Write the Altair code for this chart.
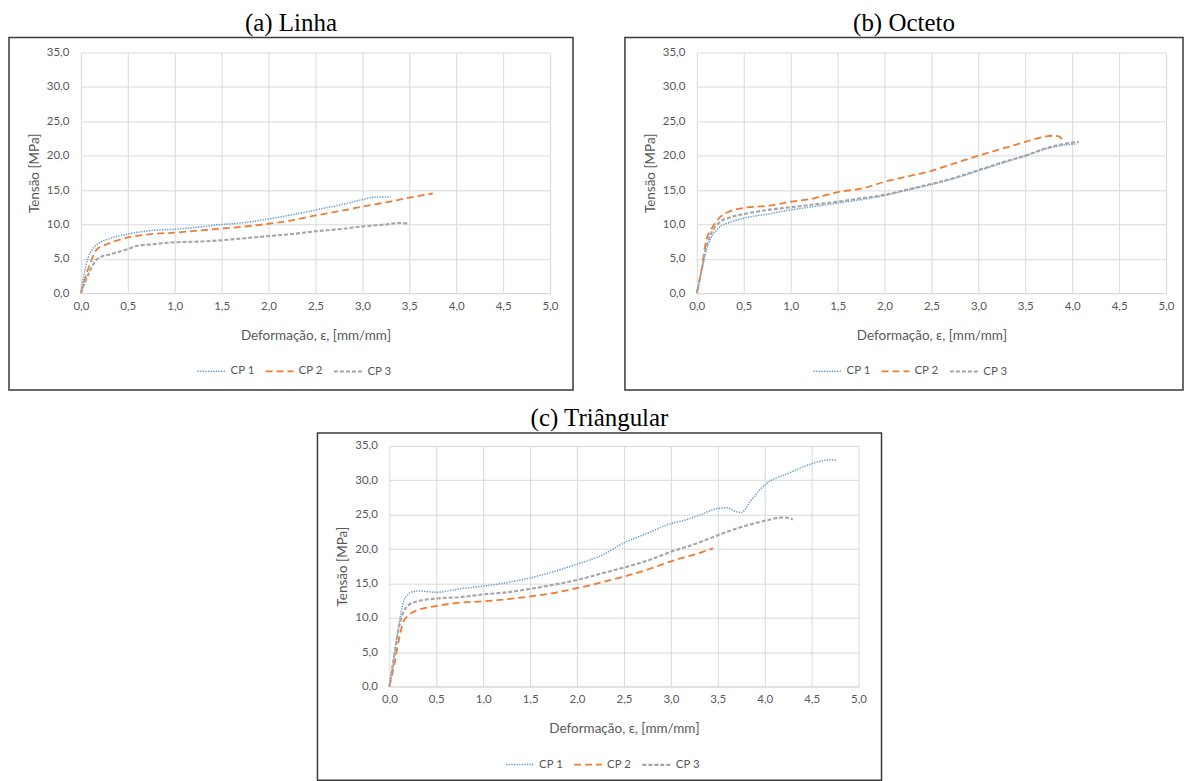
import altair as alt
import pandas as pd

SERIES = ["CP 1", "CP 2", "CP 3"]
COLORS = ["#5B9BD5", "#ED7D31", "#A5A5A5"]
DASHES = [[1.3, 1.3], [7, 4], [4, 2]]
WIDTHS = [1.5, 2.1, 1.3]

X_TICKS = [0, 0.5, 1.0, 1.5, 2.0, 2.5, 3.0, 3.5, 4.0, 4.5, 5.0]
Y_TICKS = [0, 5, 10, 15, 20, 25, 30, 35]

TITLES = ["(a) Linha", "(b) Octeto", "(c) Triângular"]

# (a) Linha
A_X1 = [0, 0.03, 0.08, 0.15, 0.22, 0.3, 0.5, 0.75, 1.0, 1.25, 1.5, 1.7, 2.0, 2.25, 2.5, 2.75, 3.0, 3.15, 3.3]
A_Y1 = [0, 2.5, 5.2, 6.8, 7.5, 7.9, 8.6, 9.1, 9.3, 9.6, 10.0, 10.2, 10.8, 11.4, 12.1, 12.8, 13.6, 14.0, 14.0]
A_X2 = [0, 0.05, 0.1, 0.15, 0.2, 0.25, 0.35, 0.5, 0.75, 1.0, 1.25, 1.5, 1.75, 2.0, 2.25, 2.5, 2.75, 3.0, 3.25, 3.5, 3.75]
A_Y2 = [0, 2.4, 4.3, 6.0, 6.7, 7.0, 7.5, 8.1, 8.6, 8.8, 9.1, 9.4, 9.7, 10.1, 10.6, 11.3, 11.9, 12.6, 13.2, 13.9, 14.5]
A_X3 = [0, 0.05, 0.1, 0.15, 0.2, 0.3, 0.4, 0.5, 0.6, 0.75, 1.0, 1.25, 1.5, 1.75, 2.0, 2.25, 2.5, 2.75, 3.0, 3.25, 3.4, 3.5]
A_Y3 = [0, 1.8, 3.3, 4.6, 5.2, 5.6, 6.0, 6.4, 6.9, 7.1, 7.4, 7.5, 7.7, 8.0, 8.3, 8.6, 9.0, 9.3, 9.7, 10.0, 10.2, 10.1]

# (b) Octeto
B_X1 = [0, 0.05, 0.1, 0.15, 0.2, 0.25, 0.35, 0.5, 0.75, 1.0, 1.25, 1.5, 1.75, 2.0, 2.25, 2.5, 2.75, 3.0, 3.25, 3.5, 3.75, 3.95, 4.05]
B_Y1 = [0, 3.2, 6.2, 8.0, 9.0, 9.7, 10.3, 10.9, 11.5, 12.1, 12.6, 13.1, 13.6, 14.2, 15.0, 15.8, 16.7, 17.8, 18.9, 20.0, 21.1, 21.6, 21.7]
B_X2 = [0, 0.05, 0.1, 0.15, 0.2, 0.25, 0.35, 0.5, 0.75, 1.0, 1.25, 1.5, 1.75, 2.0, 2.25, 2.5, 2.75, 3.0, 3.25, 3.5, 3.65, 3.8, 3.86, 3.9]
B_Y2 = [0, 3.4, 7.7, 9.2, 10.3, 11.1, 11.9, 12.4, 12.7, 13.3, 13.8, 14.7, 15.2, 16.2, 17.0, 17.8, 18.9, 20.0, 21.0, 22.0, 22.6, 22.9, 22.8, 22.2]
B_X3 = [0, 0.05, 0.1, 0.15, 0.2, 0.25, 0.35, 0.5, 0.75, 1.0, 1.25, 1.5, 1.75, 2.0, 2.25, 2.5, 2.75, 3.0, 3.25, 3.5, 3.75, 4.0, 4.07]
B_Y3 = [0, 3.3, 6.7, 8.6, 9.7, 10.4, 11.0, 11.5, 12.1, 12.5, 12.9, 13.3, 13.8, 14.3, 15.1, 15.9, 16.8, 17.9, 19.0, 20.0, 21.2, 21.9, 22.0]

# (c) Triângular
C_X1 = [0, 0.05, 0.1, 0.15, 0.2, 0.25, 0.32, 0.4, 0.5, 0.75, 1.0, 1.25, 1.5, 1.75, 2.0, 2.25, 2.5, 2.75, 3.0, 3.15, 3.3, 3.5, 3.6, 3.68, 3.75, 3.85, 4.0, 4.25, 4.5, 4.6, 4.72, 4.77]
C_Y1 = [0, 4.5, 8.9, 12.3, 13.4, 13.8, 13.9, 13.8, 13.7, 14.2, 14.6, 15.1, 15.8, 16.7, 17.8, 19.0, 20.9, 22.3, 23.7, 24.2, 24.9, 25.9, 26.0, 25.5, 25.3, 27.0, 29.3, 31.0, 32.4, 32.8, 33.0, 32.8]
C_X2 = [0, 0.05, 0.1, 0.15, 0.2, 0.3, 0.5, 0.75, 1.0, 1.25, 1.5, 1.75, 2.0, 2.25, 2.5, 2.75, 3.0, 3.25, 3.45]
C_Y2 = [0, 3.0, 6.7, 9.4, 10.3, 11.1, 11.7, 12.2, 12.4, 12.7, 13.1, 13.6, 14.3, 15.1, 16.0, 17.0, 18.2, 19.2, 20.1]
C_X3 = [0, 0.05, 0.1, 0.15, 0.2, 0.3, 0.5, 0.75, 1.0, 1.25, 1.5, 1.75, 2.0, 2.25, 2.5, 2.75, 3.0, 3.25, 3.5, 3.75, 4.0, 4.2, 4.3]
C_Y3 = [0, 4.2, 8.4, 10.8, 11.8, 12.4, 12.8, 13.0, 13.4, 13.7, 14.2, 14.8, 15.5, 16.4, 17.3, 18.3, 19.6, 20.7, 22.0, 23.2, 24.1, 24.6, 24.3]

FONT = "Lato"
GRAY = "#595959"
LABEL_EXPR = "replace(format(datum.value, '.1f'), '.', ',')"


def build_df(xs_list, ys_list):
    rows = []
    for name, xs, ys in zip(SERIES, xs_list, ys_list):
        for i, (x, y) in enumerate(zip(xs, ys)):
            rows.append({"x": x, "y": y, "series": name, "i": i})
    return pd.DataFrame(rows)


def panel(title, xs_list, ys_list, box_right, box_top, box_bottom):
    df = build_df(xs_list, ys_list)
    leg = alt.Legend(
        title=None, orient="none", legendX=116, legendY=304, direction="horizontal",
        symbolType="stroke", symbolSize=784, labelFont=FONT, labelFontSize=11.5,
        labelColor=GRAY, columnPadding=6, labelOffset=4,
    )
    lines = alt.Chart(df).mark_line(interpolate="monotone").encode(
        x=alt.X("x:Q", scale=alt.Scale(domain=[0, 5], nice=False),
                axis=alt.Axis(values=X_TICKS, labelExpr=LABEL_EXPR, labelFlush=False,
                              title="Deformação, ε, [mm/mm]", domainColor="#d9d9d9",
                              titlePadding=17, labelPadding=7)),
        y=alt.Y("y:Q", scale=alt.Scale(domain=[0, 35], nice=False),
                axis=alt.Axis(values=Y_TICKS, labelExpr=LABEL_EXPR, labelFlush=False,
                              title="Tensão [MPa]", domain=False,
                              titlePadding=5, labelPadding=12)),
        color=alt.Color("series:N", scale=alt.Scale(domain=SERIES, range=COLORS), legend=leg),
        strokeDash=alt.StrokeDash("series:N", scale=alt.Scale(domain=SERIES, range=DASHES), legend=leg),
        strokeWidth=alt.StrokeWidth("series:N", scale=alt.Scale(domain=SERIES, range=WIDTHS), legend=leg),
        order="i:Q",
    )
    one = pd.DataFrame({"k": [0]})
    border = alt.Chart(one).mark_rect(
        fill="white", fillOpacity=0, stroke="#3a3a3a", strokeWidth=1.5
    ).encode(
        x=alt.value(-72), x2=alt.value(box_right), y=alt.value(box_top), y2=alt.value(box_bottom)
    )
    return alt.layer(border, lines).properties(
        width=470, height=241,
        title=alt.TitleParams(title, font="Liberation Serif", fontSize=25, fontWeight="normal",
                              color="black", anchor="middle", frame="bounds", offset=1),
    )


pa = panel(TITLES[0], [A_X1, A_X2, A_X3], [A_Y1, A_Y2, A_Y3], 493, -15, 338)
pb = panel(TITLES[1], [B_X1, B_X2, B_X3], [B_Y1, B_Y2, B_Y3], 487, -15, 338)
pc = panel(TITLES[2], [C_X1, C_X2, C_X3], [C_Y1, C_Y2, C_Y3], 493, -13, 335)

# blank white block that pushes panel (c) to the centre of the page
blank = alt.Chart(pd.DataFrame({"k": [0]})).mark_rect(fill="white").encode(
    x=alt.value(0), x2=alt.value(236), y=alt.value(0), y2=alt.value(1)
).properties(width=236, height=1)

res = dict(color="independent", strokeDash="independent", strokeWidth="independent")
top = alt.hconcat(pa, pb, spacing=50).resolve_legend(**res)
bottom = alt.hconcat(blank, pc, spacing=0).resolve_legend(**res)
chart = alt.vconcat(top, bottom, spacing=15).resolve_legend(**res).properties(
    padding={"left": 8, "top": 10, "right": 0, "bottom": 0}
).configure_view(stroke=None).configure_axis(
    grid=True, gridColor="#d9d9d9", ticks=False, labelFont=FONT, labelFontSize=11.5,
    labelColor=GRAY, titleFont=FONT, titleFontSize=13.5, titleColor=GRAY,
    titleFontWeight="normal",
)

chart.save("out.html", embed_options={"renderer": "svg", "actions": False})
